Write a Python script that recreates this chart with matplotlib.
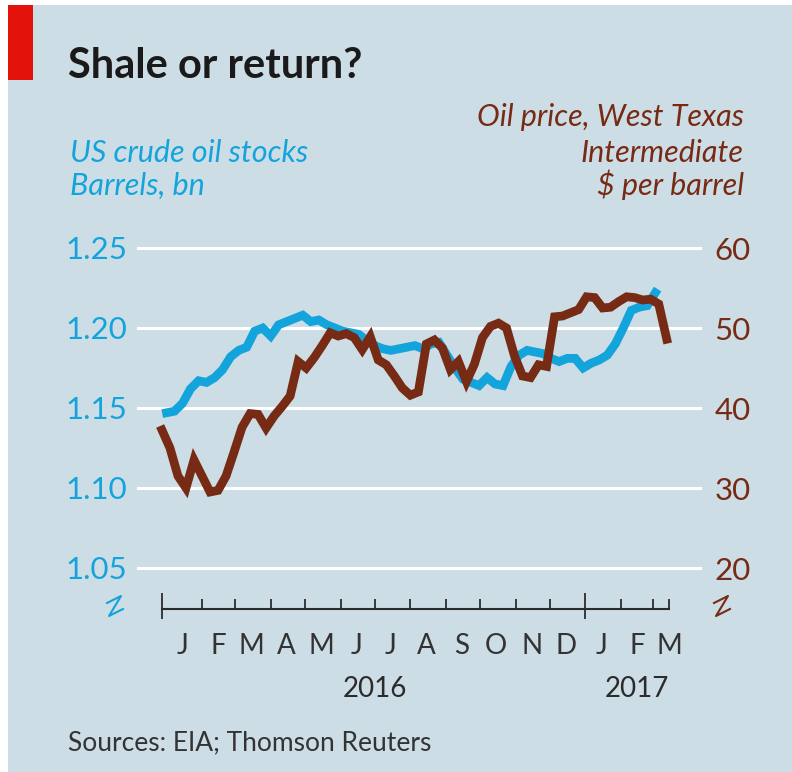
import matplotlib
matplotlib.use("Agg")
import matplotlib.pyplot as plt
import matplotlib.dates as mdates
import pandas as pd
import numpy as np

# data (weekly)
stocks_start = "2016-01-01"
stocks = [1.147, 1.148, 1.153, 1.162, 1.167, 1.166, 1.169, 1.174, 1.182, 1.186,
          1.188, 1.198, 1.200, 1.195, 1.202, 1.204, 1.206, 1.208, 1.204, 1.205,
          1.202, 1.200, 1.198, 1.197, 1.196, 1.192, 1.189, 1.187, 1.186, 1.187,
          1.188, 1.189, 1.187, 1.190, 1.191, 1.183, 1.175, 1.168, 1.166, 1.164,
          1.169, 1.165, 1.164, 1.176, 1.183, 1.186, 1.185, 1.184, 1.181, 1.179,
          1.181, 1.181, 1.175, 1.178, 1.180, 1.183, 1.190, 1.200, 1.211, 1.213,
          1.214, 1.222]

price_start = "2015-12-28"
price = [37.25, 35.0, 31.5, 30.0, 33.5, 31.5, 29.5, 29.7, 31.5, 34.5,
         37.6, 39.3, 39.2, 37.5, 39.0, 40.2, 41.5, 45.8, 45.0, 46.3,
         47.8, 49.4, 49.0, 49.3, 48.8, 47.3, 48.9, 46.0, 45.4, 44.0,
         42.5, 41.6, 42.0, 48.0, 48.5, 47.5, 44.8, 45.8, 43.3, 45.5,
         48.8, 50.2, 50.6, 50.0, 46.5, 44.0, 43.8, 45.4, 45.2, 51.4,
         51.5, 51.9, 52.3, 53.9, 53.8, 52.5, 52.6, 53.3, 53.9, 53.8,
         53.5, 53.6, 53.0, 48.6]

left_ticks = [1.05, 1.10, 1.15, 1.20, 1.25]
right_ticks = [20, 30, 40, 50, 60]
month_letters = ["J", "F", "M", "A", "M", "J", "J", "A", "S", "O", "N", "D", "J", "F", "M"]
years = ["2016", "2017"]

BG = "#cddde6"
BLUE = "#13a4dc"
BROWN = "#772a14"
DARK = "#2b2b2b"
W, H = 792, 772

stock_dates = pd.date_range(stocks_start, periods=len(stocks), freq="7D")
price_dates = pd.date_range(price_start, periods=len(price), freq="7D")
month_starts = pd.date_range("2016-01-01", "2017-03-01", freq="MS")
mid_months = month_starts + pd.Timedelta(days=14)

day0 = pd.Timestamp("2016-01-01")
x_lo = day0 - pd.Timedelta(days=25.8)
x_hi = day0 + pd.Timedelta(days=467.8)
ax_start = pd.Timestamp("2015-12-28")
ax_end = pd.Timestamp("2017-03-15")

fig = plt.figure(figsize=(W / 100, H / 100), dpi=100)
fig.patch.set_facecolor(BG)
font = "Lato"

# white margins and red tag
fig.add_artist(plt.Rectangle((0, 1 - 5 / H), 1, 5 / H, transform=fig.transFigure, color="white", lw=0))
fig.add_artist(plt.Rectangle((0, 0), 8 / W, 1, transform=fig.transFigure, color="white", lw=0))
fig.add_artist(plt.Rectangle((8 / W, 1 - 80 / H), 25 / W, 75 / H, transform=fig.transFigure, color="#e3120b", lw=0))

ax = fig.add_axes([137 / W, (H - 609) / H, 565 / W, 369 / H])
ax.set_facecolor("none")
ax2 = ax.twinx()

ax.set_xlim(x_lo, x_hi)
ax.set_ylim(1.25 - 361 / 1600, 1.25 + 8 / 1600)
ax2.set_ylim(60 - 361 / 8, 61)

for v in left_ticks:
    ax.axhline(v, color="white", lw=2.2, zorder=1)

ax.plot(stock_dates, stocks, color=BLUE, lw=6.3, solid_joinstyle="miter", zorder=3)
ax2.plot(price_dates, price, color=BROWN, lw=6.3, solid_joinstyle="miter", zorder=4)

for a in (ax, ax2):
    for s in ["top", "left", "right"]:
        a.spines[s].set_visible(False)
ax2.spines["bottom"].set_visible(False)
ax.spines["bottom"].set_color(DARK)
ax.spines["bottom"].set_linewidth(1.5)
ax.spines["bottom"].set_bounds(mdates.date2num(ax_start), mdates.date2num(ax_end))

ax.set_yticks(left_ticks)
ax.set_yticklabels([f"{v:.2f}" for v in left_ticks])
ax.tick_params(axis="y", length=0, pad=7, labelsize=22.5, labelcolor=BLUE)
ax2.set_yticks(right_ticks)
ax2.tick_params(axis="y", length=0, pad=9, labelsize=22.5, labelcolor=BROWN)
for lab in ax.get_yticklabels() + ax2.get_yticklabels():
    lab.set_family(font)

ax.xaxis.remove_overlapping_locs = False
small_ticks = [d for d in month_starts if d.month != 1] + [ax_end]
ax.set_xticks(small_ticks)
ax.set_xticklabels([])
ax.tick_params(axis="x", direction="in", length=7, width=1.3, color=DARK)
ax.set_xticks(mid_months, minor=True)
ax.set_xticklabels(month_letters, minor=True)
ax.tick_params(axis="x", which="minor", length=0, pad=17, labelsize=20, labelcolor="#333333")
for lab in ax.get_xticklabels(minor=True):
    lab.set_family(font)
ax.vlines([ax_start, pd.Timestamp("2017-01-01")], -10 / 369, 16 / 369,
          transform=ax.get_xaxis_transform(), color=DARK, lw=1.3, clip_on=False)

# year labels
ax.text(pd.Timestamp("2016-07-01"), -88 / 369, years[0], transform=ax.get_xaxis_transform(),
        ha="center", va="baseline", fontsize=20, color=DARK, family=font)
ax.text(ax_end, -88 / 369, years[1], transform=ax.get_xaxis_transform(),
        ha="right", va="baseline", fontsize=20, color=DARK, family=font)

# axis break marks
zz = np.array([(-8, 3), (6, 10), (-6, -10), (8, -3)], dtype=float)
for cx, col in [(115, BLUE), (722, BROWN)]:
    fig.add_artist(plt.Line2D((cx + zz[:, 0]) / W, (H - 606 + zz[:, 1]) / H,
                              transform=fig.transFigure, color=col, lw=1.5))

def ftext(x, y, s, **kw):
    fig.text(x / W, 1 - y / H, s, va="baseline", family=font, **kw)

ftext(68, 78, "Shale or return?", fontsize=30, fontweight="bold", color="#1a1a1a")
ftext(70, 162, "US crude oil stocks", fontsize=22, style="italic", color=BLUE)
ftext(70, 195, "Barrels, bn", fontsize=22, style="italic", color=BLUE)
ftext(744, 126, "Oil price, West Texas", fontsize=22, style="italic", color=BROWN, ha="right")
ftext(744, 162, "Intermediate", fontsize=22, style="italic", color=BROWN, ha="right")
ftext(744, 195, "$ per barrel", fontsize=22, style="italic", color=BROWN, ha="right")
ftext(68, 750, "Sources: EIA; Thomson Reuters", fontsize=19, color="#333333")

fig.savefig("out.png", dpi=100, facecolor=BG)
